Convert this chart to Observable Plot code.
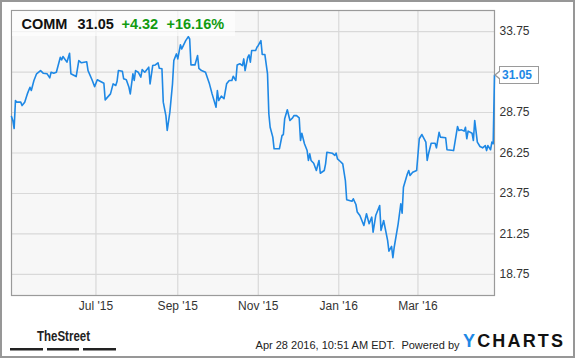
<!DOCTYPE html>
<html>
<head>
<meta charset="utf-8">
<script src="https://cdn.jsdelivr.net/npm/d3@7"></script>
<script src="https://cdn.jsdelivr.net/npm/@observablehq/plot@0.6"></script>
<style>
  html, body { margin: 0; padding: 0; background: #fff; }
  #wrap { position: relative; width: 575px; height: 358px; overflow: hidden; font-family: "Liberation Sans", Arial, sans-serif; }
  #wrap > svg.plot { position: absolute; left: 0; top: 0; }
  #border { position: absolute; left: 0; top: 0; width: 575px; height: 358px; box-sizing: border-box; border: 2px solid #979797; pointer-events: none; }
  #overlay { position: absolute; left: 0; top: 0; pointer-events: none; }
  #lastlabel { position: absolute; height: 16px; width: 36px; border: 1px solid #9a9a9a; background: #fff; color: #1e88e5; font: bold 12px "Liberation Sans", Arial, sans-serif; line-height: 16px; padding-left: 2px; box-sizing: content-box; }
  #lastlabel .arr1, #lastlabel .arr2 { position: absolute; width: 0; height: 0; border-style: solid; }
  #lastlabel .arr1 { left: -6px; top: 3px; border-width: 5px 6px 5px 0; border-color: transparent #9a9a9a transparent transparent; }
  #lastlabel .arr2 { left: -4px; top: 4px; border-width: 4px 5px 4px 0; border-color: transparent #fff transparent transparent; }
</style>
</head>
<body>
<div id="wrap"></div>
<script>
// ---- data ----
const ticker = "COMM";
const lastPrice = "31.05";
const change = "+4.32";
const changePct = "+16.16%";
const stampText = "Apr 28 2016, 10:51 AM EDT.";

const dates = [
  "2015-04-28","2015-04-29","2015-04-30","2015-05-01","2015-05-02","2015-05-05","2015-05-06","2015-05-08","2015-05-10","2015-05-12",
  "2015-05-13","2015-05-15","2015-05-17","2015-05-20","2015-05-22","2015-05-25","2015-05-27","2015-05-28","2015-05-30","2015-06-01",
  "2015-06-04","2015-06-05","2015-06-06","2015-06-09","2015-06-11","2015-06-12","2015-06-16","2015-06-18","2015-06-20","2015-06-24",
  "2015-06-25","2015-06-28","2015-06-30","2015-07-02","2015-07-07","2015-07-08","2015-07-12","2015-07-14","2015-07-16","2015-07-17",
  "2015-07-18","2015-07-21","2015-07-22","2015-07-24","2015-07-26","2015-07-27","2015-07-29","2015-07-30","2015-07-31",
  "2015-08-02","2015-08-04","2015-08-05","2015-08-07","2015-08-10","2015-08-11","2015-08-13","2015-08-15","2015-08-17","2015-08-18",
  "2015-08-20","2015-08-21","2015-08-23","2015-08-24","2015-08-26","2015-08-28","2015-08-29","2015-08-31","2015-09-01","2015-09-03",
  "2015-09-04","2015-09-07","2015-09-09","2015-09-10","2015-09-11","2015-09-14","2015-09-16","2015-09-17","2015-09-19","2015-09-22",
  "2015-09-25","2015-09-27","2015-09-30","2015-10-01","2015-10-02","2015-10-04","2015-10-06","2015-10-08","2015-10-10","2015-10-12",
  "2015-10-13","2015-10-15","2015-10-16","2015-10-18","2015-10-20","2015-10-21","2015-10-22","2015-10-24","2015-10-25","2015-10-26",
  "2015-10-27","2015-10-30","2015-10-31",
  "2015-11-01","2015-11-03","2015-11-04","2015-11-06","2015-11-08","2015-11-09","2015-11-10","2015-11-12","2015-11-13","2015-11-17",
  "2015-11-19","2015-11-20","2015-11-21","2015-11-23","2015-11-25","2015-11-27","2015-11-28","2015-11-30","2015-12-02","2015-12-03",
  "2015-12-04","2015-12-06","2015-12-08","2015-12-09","2015-12-10","2015-12-11","2015-12-13","2015-12-15","2015-12-17","2015-12-18",
  "2015-12-21","2015-12-22","2015-12-23","2015-12-27","2015-12-29","2015-12-30","2015-12-31",
  "2016-01-02","2016-01-04","2016-01-06","2016-01-07","2016-01-11","2016-01-12","2016-01-14","2016-01-15","2016-01-17","2016-01-20",
  "2016-01-22","2016-01-24","2016-01-26","2016-01-27","2016-01-29","2016-02-01","2016-02-02","2016-02-04","2016-02-07","2016-02-08",
  "2016-02-10","2016-02-11","2016-02-12","2016-02-15","2016-02-17","2016-02-18","2016-02-19","2016-02-22","2016-02-23","2016-02-24",
  "2016-02-26","2016-02-29","2016-03-02","2016-03-04","2016-03-05","2016-03-07","2016-03-08","2016-03-09","2016-03-11","2016-03-14",
  "2016-03-15","2016-03-17","2016-03-18","2016-03-22","2016-03-23","2016-03-28","2016-03-31","2016-04-01","2016-04-03","2016-04-05",
  "2016-04-06","2016-04-07","2016-04-08","2016-04-11","2016-04-12","2016-04-13","2016-04-15","2016-04-17","2016-04-19","2016-04-21",
  "2016-04-22","2016-04-23","2016-04-25","2016-04-26","2016-04-27","2016-04-28"
];

const closes = [
  28.50,28.26,27.76,29.49,29.39,29.39,29.18,29.39,29.90,30.31,
  30.11,30.73,31.14,31.34,31.18,31.14,30.89,31.24,31.18,31.24,
  32.16,32.00,32.21,31.86,32.41,31.14,30.97,31.96,31.82,31.88,
  31.34,30.77,30.35,30.77,30.56,29.53,29.90,30.52,30.42,30.68,
  31.34,31.30,30.83,30.77,30.31,29.90,31.14,30.73,31.34,
  31.24,30.93,31.40,31.24,31.55,30.52,31.65,31.69,31.82,31.48,
  31.45,29.39,28.56,27.64,28.77,30.52,31.96,32.37,32.06,32.93,
  32.68,33.19,33.44,33.30,31.69,31.69,32.27,31.48,31.34,31.24,
  30.52,29.90,29.08,30.11,29.49,29.76,29.60,30.52,30.73,30.73,
  30.99,30.73,31.69,31.76,31.65,32.06,31.34,32.16,32.31,31.86,
  32.58,32.58,32.78,
  32.89,33.19,32.33,32.33,31.14,28.67,27.84,27.23,26.51,26.51,
  27.33,27.39,28.36,28.92,28.26,28.42,28.56,28.56,28.42,27.02,
  27.47,26.82,26.40,25.79,26.20,25.79,25.62,25.17,25.79,25.00,
  25.17,25.58,26.30,26.24,26.10,26.24,25.89,
  25.74,25.58,24.55,23.36,23.27,23.42,23.07,22.60,22.39,21.77,
  22.50,21.88,22.29,21.36,22.39,23.01,21.47,22.08,20.85,20.19,
  20.48,19.78,20.43,21.88,23.11,22.53,24.14,24.97,25.17,24.86,
  25.06,25.17,27.13,27.39,27.23,26.92,25.79,26.20,26.85,26.85,
  26.57,27.53,27.23,27.19,26.45,26.40,27.89,27.64,27.68,27.60,
  27.84,27.13,27.60,27.47,27.02,28.26,26.92,26.65,26.57,26.71,
  26.40,26.71,26.45,26.92,26.82,31.05
];

const xTickDates = ["2015-07-01","2015-09-01","2015-11-01","2016-01-01","2016-03-01"];
const yGridValues = [18.75, 21.25, 23.75, 26.25, 28.75, 31.25, 33.75];
const yLabelValues = [18.75, 21.25, 23.75, 26.25, 28.75, 33.75];
const xDomain = ["2015-04-28", "2016-04-28"];
const yDomain = [17.45, 35.05];

// ---- build ----
if (dates.length !== closes.length) throw new Error("length mismatch " + dates.length + " vs " + closes.length);
const data = dates.map((d, i) => ({date: new Date(d), close: closes[i]}));
const xTicks = xTickDates.map(d => new Date(d));

const lineColor = "#1e88e5";
const gridColor = "#d9d9d9";

const chart = Plot.plot({
  width: 575,
  height: 358,
  marginLeft: 11,
  marginRight: 81,
  marginTop: 10,
  marginBottom: 63,
  style: {fontFamily: "'Liberation Sans', Arial, sans-serif", fontSize: "12px", color: "#333", background: "transparent", overflow: "visible"},
  x: {type: "utc", domain: xDomain.map(d => new Date(d))},
  y: {domain: yDomain},
  marks: [
    Plot.frame({fill: "#f7f7f7", stroke: null}),
    Plot.gridY(yGridValues, {stroke: gridColor, strokeOpacity: 1, strokeWidth: 1.2}),
    Plot.gridX(xTicks, {stroke: gridColor, strokeOpacity: 1, strokeWidth: 1.2}),
    Plot.frame({stroke: "#9a9a9a", strokeWidth: 1.2}),
    Plot.axisY(yLabelValues, {anchor: "right", tickSize: 0, tickPadding: 5, textAnchor: "start", tickFormat: d => d.toFixed(2), label: null, fill: "#333"}),
    Plot.axisX(xTicks, {anchor: "bottom", tickSize: 0, tickPadding: 6, tickFormat: d3.utcFormat("%b '%y"), label: null, fill: "#333"}),
    Plot.lineY(data, {x: "date", y: "close", stroke: lineColor, strokeWidth: 1.6, strokeLinejoin: "round"})
  ]
});
chart.classList.add("plot");

const wrap = document.getElementById("wrap");
wrap.appendChild(chart);

// overlay: title box, footer
const ns = "http://www.w3.org/2000/svg";
const ov = document.createElementNS(ns, "svg");
ov.setAttribute("id", "overlay");
ov.setAttribute("width", 575);
ov.setAttribute("height", 358);
ov.innerHTML = `
  <rect x="12" y="11" width="223" height="25" fill="#ffffff" fill-opacity="0.65"></rect>
  <g font-family="'Liberation Sans', Arial, sans-serif" font-weight="bold" font-size="14.5px">
    <text x="21.5" y="29" fill="#111">${ticker}</text>
    <text x="77.5" y="29" fill="#111">${lastPrice}</text>
    <text x="121.5" y="29" fill="#119b11">${change}</text>
    <text x="166.5" y="29" fill="#119b11">${changePct}</text>
  </g>
  <text x="37" y="341" font-family="'Liberation Sans Narrow', 'Arial Narrow', 'Liberation Sans', Arial, sans-serif" font-weight="bold" font-size="14px" fill="#222" textLength="53" lengthAdjust="spacingAndGlyphs">TheStreet</text>
  <rect x="10" y="348" width="33" height="2.5" fill="#222"></rect>
  <rect x="47" y="348" width="32" height="2.5" fill="#222"></rect>
  <rect x="83" y="348" width="33" height="2.5" fill="#222"></rect>
  <text x="395" y="348.5" text-anchor="end" font-family="'Liberation Sans', Arial, sans-serif" font-size="11px" fill="#222">${stampText}</text>
  <text x="459.5" y="348.5" text-anchor="end" font-family="'Liberation Sans', Arial, sans-serif" font-size="11px" fill="#222">Powered by</text>
  <text x="463" y="347" font-family="'Liberation Sans', Arial, sans-serif" font-weight="bold" font-size="18px" textLength="100" lengthAdjust="spacing"><tspan fill="#1e88e5">Y</tspan><tspan fill="#111">CHARTS</tspan></text>
`;
wrap.appendChild(ov);

// last value label positioned with the plot's own scales
const last = data[data.length - 1];
const xs = chart.scale("x"), ys = chart.scale("y");
const px = xs.apply(last.date);
const py = ys.apply(last.close);
const lab = document.createElement("div");
lab.id = "lastlabel";
lab.innerHTML = `<span class="arr1"></span><span class="arr2"></span>${last.close.toFixed(2)}`;
lab.style.left = (px + 5) + "px";
lab.style.top = (py - 9) + "px";
wrap.appendChild(lab);

const border = document.createElement("div");
border.id = "border";
wrap.appendChild(border);
</script>
</body>
</html>
